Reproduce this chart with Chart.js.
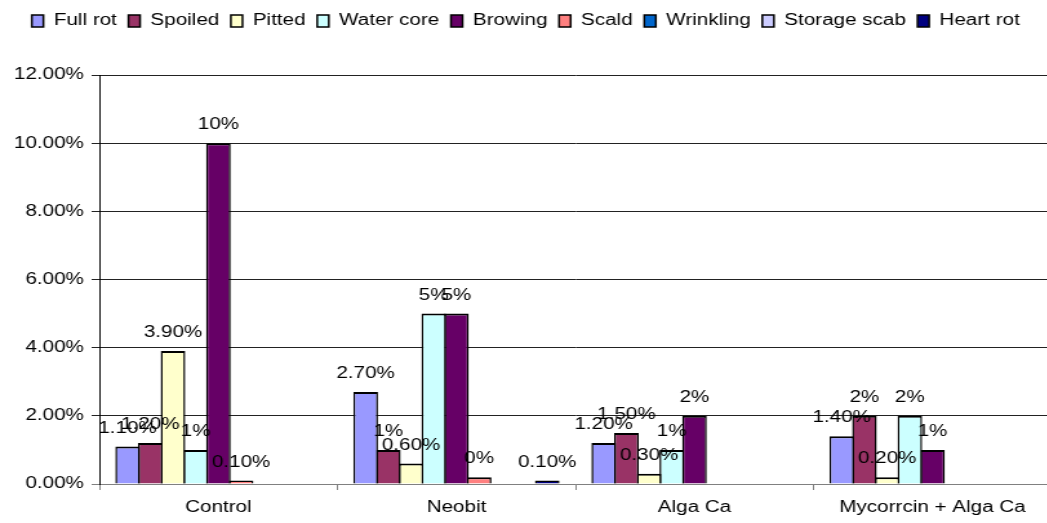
<!DOCTYPE html>
<html>
<head>
<meta charset="utf-8">
<script src="https://cdn.jsdelivr.net/npm/chart.js@4"></script>
<style>
  html, body { margin: 0; padding: 0; background: #fff; overflow: hidden; }
  #wrap { width: 1047px; height: 523px; overflow: hidden; }
</style>
</head>
<body>
<div id="wrap">
  <canvas id="defects" width="820" height="523" style="width:1058px;height:523px"></canvas>
</div>
<script>
const categories = ["Control", "Neobit", "Alga Ca", "Mycorrcin + Alga Ca"];
const seriesNames = ["Full rot", "Spoiled", "Pitted", "Water core", "Browing", "Scald", "Wrinkling", "Storage scab", "Heart rot"];

// percent values per treatment (null = nothing recorded)
const fullRot     = [1.1, 2.7, 1.2, 1.4];
const spoiled     = [1.2, 1.0, 1.5, 2.0];
const pitted      = [3.9, 0.6, 0.3, 0.2];
const waterCore   = [1.0, 5.0, 1.0, 2.0];
const browing     = [10, 5, 2, 1];
const scald       = [0.1, 0.2, null, null];
const wrinkling   = [null, null, null, null];
const storageScab = [null, null, null, null];
const heartRot    = [null, 0.1, null, null];

// decimals shown in each value label
const fullRotDec     = [2, 2, 2, 2];
const spoiledDec     = [2, 0, 2, 0];
const pittedDec      = [2, 2, 2, 2];
const waterCoreDec   = [0, 0, 0, 0];
const browingDec     = [0, 0, 0, 0];
const scaldDec       = [2, 0, 2, 2];
const wrinklingDec   = [2, 2, 2, 2];
const storageScabDec = [2, 2, 2, 2];
const heartRotDec    = [2, 2, 2, 2];

const yTicks = [0, 2, 4, 6, 8, 10, 12];

const colors = ["#9999FF", "#993366", "#FFFFCC", "#CCFFFF", "#660066", "#FF8080", "#0066CC", "#CCCCFF", "#000080"];

const values = [fullRot, spoiled, pitted, waterCore, browing, scald, wrinkling, storageScab, heartRot];
const decimals = [fullRotDec, spoiledDec, pittedDec, waterCoreDec, browingDec, scaldDec, wrinklingDec, storageScabDec, heartRotDec];

const FONT = { family: "'Liberation Sans', Arial, sans-serif", size: 16 };

// value labels above each bar
const barLabels = {
  id: "barLabels",
  afterDatasetsDraw(chart) {
    const ctx = chart.ctx;
    ctx.save();
    ctx.font = "16px 'Liberation Sans', Arial, sans-serif";
    ctx.fillStyle = "#000";
    ctx.textAlign = "center";
    ctx.textBaseline = "alphabetic";
    chart.data.datasets.forEach((ds, i) => {
      const meta = chart.getDatasetMeta(i);
      meta.data.forEach((bar, j) => {
        const v = ds.data[j];
        if (v === null || v === undefined) return;
        ctx.fillText(v.toFixed(decimals[i][j]) + "%", bar.x, bar.y - 14);
      });
    });
    ctx.restore();
  }
};

// fixed room for the legend row
const legendRoom = {
  id: "legendRoom",
  beforeInit(chart) {
    const fit = chart.legend.fit;
    chart.legend.fit = function () {
      fit.bind(chart.legend)();
      this.height = 71;
    };
  }
};

new Chart(document.getElementById("defects").getContext("2d"), {
  type: "bar",
  data: {
    labels: categories,
    datasets: seriesNames.map((name, i) => ({
      label: name,
      data: values[i],
      backgroundColor: colors[i],
      borderColor: "#000",
      borderWidth: { top: 2, left: 1.5, right: 1.5, bottom: 0 },
      borderSkipped: false,
      barPercentage: 1.085,
      categoryPercentage: 0.858,
    })),
  },
  options: {
    responsive: false,
    devicePixelRatio: 1,
    animation: false,
    layout: { padding: { left: 0, right: 5, top: 4, bottom: 0 } },
    plugins: {
      legend: {
        position: "top",
        labels: {
          boxWidth: 9,
          boxHeight: 12,
          padding: 9,
          color: "#000",
          font: FONT,
          generateLabels(chart) {
            return chart.data.datasets.map((ds, i) => ({
              text: ds.label,
              fillStyle: ds.backgroundColor,
              strokeStyle: "#000",
              lineWidth: 1.5,
              fontColor: "#000",
              datasetIndex: i,
            }));
          },
        },
      },
      tooltip: { enabled: false },
    },
    scales: {
      x: {
        offset: true,
        grid: {
          offset: true,
          drawOnChartArea: false,
          drawTicks: true,
          tickLength: 6,
          color: "#808080",
        },
        border: { color: "#808080", width: 1 },
        ticks: { color: "#000", font: FONT, padding: 8, maxRotation: 0 },
        afterFit(scale) { scale.height = 39; },
      },
      y: {
        min: 0,
        max: 12,
        afterBuildTicks(scale) { scale.ticks = yTicks.map(v => ({ value: v })); },
        grid: {
          drawTicks: true,
          tickLength: 6,
          color: (c) => (c.tick && c.tick.value === 0 ? "#808080" : "#222"),
        },
        border: { color: "#000", width: 1 },
        ticks: {
          color: "#000",
          font: FONT,
          padding: 6,
          callback: (v) => Number(v).toFixed(2) + "%",
        },
        afterFit(scale) { scale.width = 77; },
      },
    },
  },
  plugins: [barLabels, legendRoom],
});
</script>
</body>
</html>
